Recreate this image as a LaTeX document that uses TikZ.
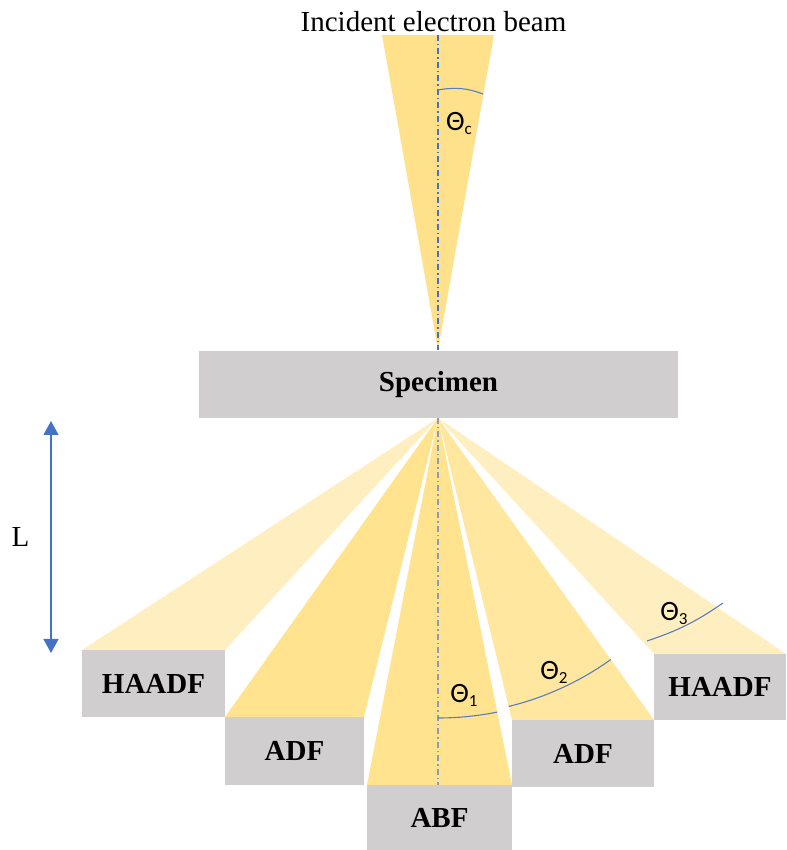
\documentclass[tikz,border=0pt]{standalone}
\usepackage{fontspec}
\setmainfont{Liberation Serif}
\newfontfamily\calfont{Carlito}
\usetikzlibrary{arrows.meta,calc}
\definecolor{beamc}{HTML}{FFE18C}
\definecolor{abfc}{HTML}{FFE38F}
\definecolor{adflc}{HTML}{FFE38F}
\definecolor{adfrc}{HTML}{FFE79F}
\definecolor{haadfc}{HTML}{FFEEC0}
\definecolor{boxc}{HTML}{D0CECE}
\definecolor{axisblue}{HTML}{4472C4}
\definecolor{axisgray}{HTML}{8C9CB8}
\definecolor{arcc}{HTML}{5B7DBA}
\definecolor{arrowc}{HTML}{4472C4}
\newcommand{\thlab}[1]{{\calfont\fontsize{28}{30}\selectfont Θ\raisebox{-0.3ex}{\fontsize{17}{18}\selectfont #1}}}
\tikzset{
  detbox/.style={fill=boxc, draw=none, inner sep=0pt, font=\fontsize{29}{31}\selectfont\bfseries},
  axisline/.style={line width=1.1pt, dash pattern=on 6pt off 3pt on 1.5pt off 3pt},
  anglearc/.style={draw=arcc, line width=1.1pt},
  lbl/.style={inner sep=0pt}
}
\begin{document}
\begin{tikzpicture}[x=1pt,y=1pt]
\useasboundingbox (0,0) rectangle (786,850);
% coordinates
\coordinate (top) at (438,500);
\coordinate (apex) at (438,432);
% incident beam
\fill[beamc] (382,815) -- (494,815) -- (top) -- cycle;
% fans
\fill[haadfc] (apex) -- (82,200) -- (225,200) -- cycle;
\fill[adflc] (apex) -- (225,133) -- (364,133) -- cycle;
\fill[abfc] (apex) -- (367,65) -- (512,65) -- cycle;
\fill[adfrc] (apex) -- (512,130) -- (654,130) -- cycle;
\fill[haadfc] (apex) -- (654,196) -- (786,196) -- cycle;
% specimen and detectors
\node[detbox, minimum width=479pt, minimum height=67pt] (spec) at (438.5,465.5) {Specimen};
\node[detbox, minimum width=143pt, minimum height=67pt] (haadfl) at (153.5,166.5) {HAADF};
\node[detbox, minimum width=139pt, minimum height=68pt] (adfl) at (294.5,99) {ADF};
\node[detbox, minimum width=145pt, minimum height=65pt] (abf) at (439.5,32.5) {ABF};
\node[detbox, minimum width=142pt, minimum height=67pt] (adfr) at (583,96.5) {ADF};
\node[detbox, minimum width=132pt, minimum height=66pt] (haadfr) at (720,163) {HAADF};
% axis lines
\coordinate (axtop) at (438,815);
\coordinate (axbot) at (438,65);
\draw[axisline, axisblue] (axtop) -- (top);
\draw[axisline, axisgray] (apex) -- (axbot);
% angle arcs
\coordinate (tca) at (438,760);
\coordinate (tcb) at (483,756);
\draw[anglearc] (tca) to[bend left=15] (tcb);
\draw[anglearc] ($(apex)+(0,-300)$) arc[start angle=270, end angle=281.4, radius=300pt];
\draw[anglearc] ($(apex)+(283.8:297)$) arc[start angle=283.8, end angle=305.6, radius=297pt];
\coordinate (t3a) at (647,209);
\coordinate (t3b) at (723,247);
\draw[anglearc] (t3a) to[bend right=8] (t3b);
% angle labels
\node[lbl] (thc) at (459,727) {\thlab{c}};
\node[lbl] (th1) at (464,155) {\thlab{1}};
\node[lbl] (th2) at (554,178) {\thlab{2}};
\node[lbl] (th3) at (674,237) {\thlab{3}};
% title
\node[lbl, font=\fontsize{29}{31}\selectfont] (title) at (433.5,828) {Incident electron beam};
% L arrow
\coordinate (la) at (51,429);
\coordinate (lb) at (51,197);
\draw[arrowc, line width=1.2pt, {Triangle[width=15pt,length=14pt]}-{Triangle[width=15pt,length=14pt]}] (la) -- (lb);
\node[lbl, font=\fontsize{29}{31}\selectfont] (L) at (20.5,313) {L};
\end{tikzpicture}
\end{document}
